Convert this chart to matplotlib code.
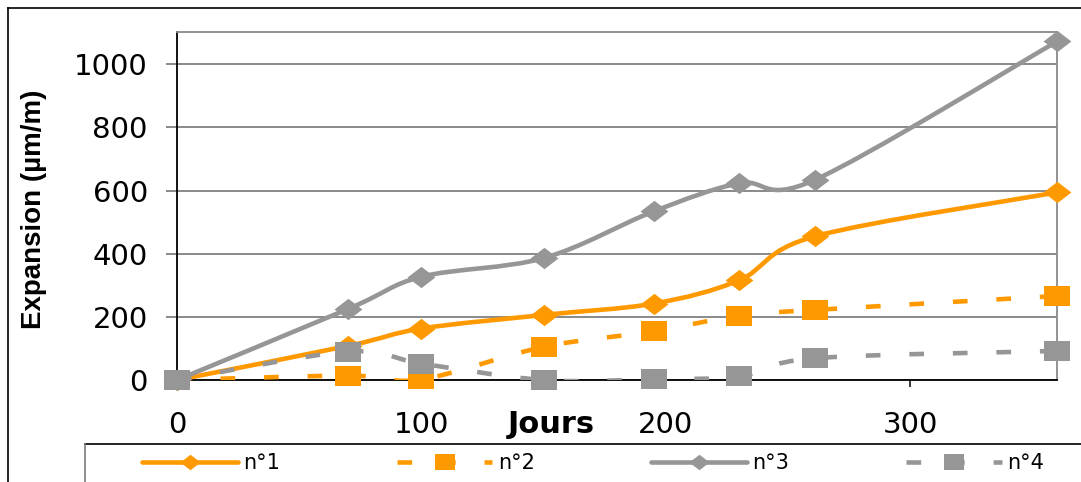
import numpy as np
import matplotlib
matplotlib.use("Agg")
import matplotlib.pyplot as plt
from matplotlib.path import Path
from matplotlib.patches import PathPatch
from matplotlib.lines import Line2D

# expansion measurements (µm/m) per specimen
jours = [0, 70, 100, 150, 195, 230, 261, 360]
n1 = [0, 108, 163, 206, 242, 316, 455, 594]
n2 = [0, 14, 2, 105, 154, 204, 222, 266]
n3 = [0, 225, 327, 386, 534, 623, 634, 1072]
n4 = [0, 90, 52, 0, 2, 12, 69, 92]
labels = ["n°1", "n°2", "n°3", "n°4"]
x_ticks = [0, 100, 200, 300]
y_ticks = [0, 200, 400, 600, 800, 1000]

ORANGE = "#FF9900"
GREY = "#969696"
W, H = 1081, 482

# wide-ish markers (the chart is drawn a bit stretched horizontally)
DIAMOND = [(-1.3, 0), (0, 1), (1.3, 0), (0, -1), (-1.3, 0)]
SQUARE = [(-1.3, -1), (1.3, -1), (1.3, 1), (-1.3, 1), (-1.3, -1)]


def smooth_path(x, y):
    """Catmull-Rom style bezier through the points, like a spreadsheet 'smoothed line'."""
    p = np.column_stack([x, y]).astype(float)
    verts = [p[0]]
    codes = [Path.MOVETO]
    n = len(p)
    for i in range(n - 1):
        p0 = p[i - 1] if i > 0 else p[i]
        p3 = p[i + 2] if i + 2 < n else p[i + 1]
        c1 = p[i] + (p[i + 1] - p0) / 6
        c2 = p[i + 1] - (p3 - p[i]) / 6
        verts += [c1, c2, p[i + 1]]
        codes += [Path.CURVE4] * 3
    return Path(verts, codes)


fig = plt.figure(figsize=(W / 100, H / 100), dpi=100)
ax = fig.add_axes([177 / W, (H - 380) / H, 880 / W, 348 / H])
ax.set_xlim(0, 360)
ax.set_ylim(0, 1102)

series = [
    (n1, ORANGE, "-", DIAMOND, 20),
    (n2, ORANGE, "--", SQUARE, 19.4),
    (n3, GREY, "-", DIAMOND, 20),
    (n4, GREY, "--", SQUARE, 19.4),
]
handles = []
for k, (vals, col, ls, mk, ms) in enumerate(series):
    dash = ls == "--"
    patch = PathPatch(smooth_path(jours, vals), fill=False, edgecolor=col, lw=3.3,
                      linestyle=(0, (3.2, 6.3)) if dash else "-",
                      capstyle="butt" if dash else "round", joinstyle="round",
                      zorder=3 + 2 * k)
    ax.add_patch(patch)
    ax.plot(jours, vals, linestyle="none", marker=mk, ms=ms, color=col, mew=0,
            clip_on=False, zorder=4 + 2 * k)
    handles.append(Line2D([], [], color=col, lw=3.3, marker=mk, ms=14.5, mew=0,
                          linestyle=(0, (3.2, 6.3)) if dash else "-",
                          solid_capstyle="round", dash_capstyle="butt"))

# axes styling
for side in ("top", "right"):
    ax.spines[side].set_color("#8a8a8a")
    ax.spines[side].set_linewidth(1.3)
for side in ("left", "bottom"):
    ax.spines[side].set_color("black")
    ax.spines[side].set_linewidth(1.3)
    ax.spines[side].set_zorder(2.5)
ax.set_yticks(y_ticks)
ax.set_xticks(x_ticks)
ax.yaxis.grid(True, color="#6a6a6a", lw=1.1)
ax.set_axisbelow(True)
ax.tick_params(axis="y", length=8, width=1.1, color="#6a6a6a", pad=13,
               labelsize=21, labelfontfamily="DejaVu Sans")
ax.tick_params(axis="x", length=5, width=1.1, color="black", pad=17,
               labelsize=21, labelfontfamily="DejaVu Sans")

ax.set_ylabel("Expansion (µm/m)", fontsize=20, fontweight="bold", family="Liberation Sans")
ax.yaxis.set_label_coords((47 - 177) / 880, (380 - 209) / 348)
ax.set_xlabel("Jours", fontsize=22, fontweight="bold", family="DejaVu Sans")
ax.xaxis.set_label_coords((551 - 177) / 880, -(410 - 380) / 348)

# legend strip along the bottom
fig.legend(handles, labels, ncol=4, frameon=False, loc="center left",
           bbox_to_anchor=(142 / W, 1 - 463 / H), borderpad=0, borderaxespad=0,
           prop={"family": "DejaVu Sans", "size": 15}, handlelength=4.6,
           handletextpad=0.25, columnspacing=5.6, numpoints=1)
fig.add_artist(Line2D([85 / W, 1.0], [1 - 444 / H] * 2, color="black", lw=1.2,
                      transform=fig.transFigure))
fig.add_artist(Line2D([85 / W] * 2, [1 - 444 / H, 0], color="#7a7a7a", lw=1.2,
                      transform=fig.transFigure))

# outer chart frame (left and top edges)
fig.add_artist(Line2D([8 / W, 1.0], [1 - 8 / H] * 2, color="black", lw=1.2,
                      transform=fig.transFigure))
fig.add_artist(Line2D([8 / W] * 2, [1 - 8 / H, 0], color="black", lw=1.2,
                      transform=fig.transFigure))

fig.savefig("out.png", dpi=100)
